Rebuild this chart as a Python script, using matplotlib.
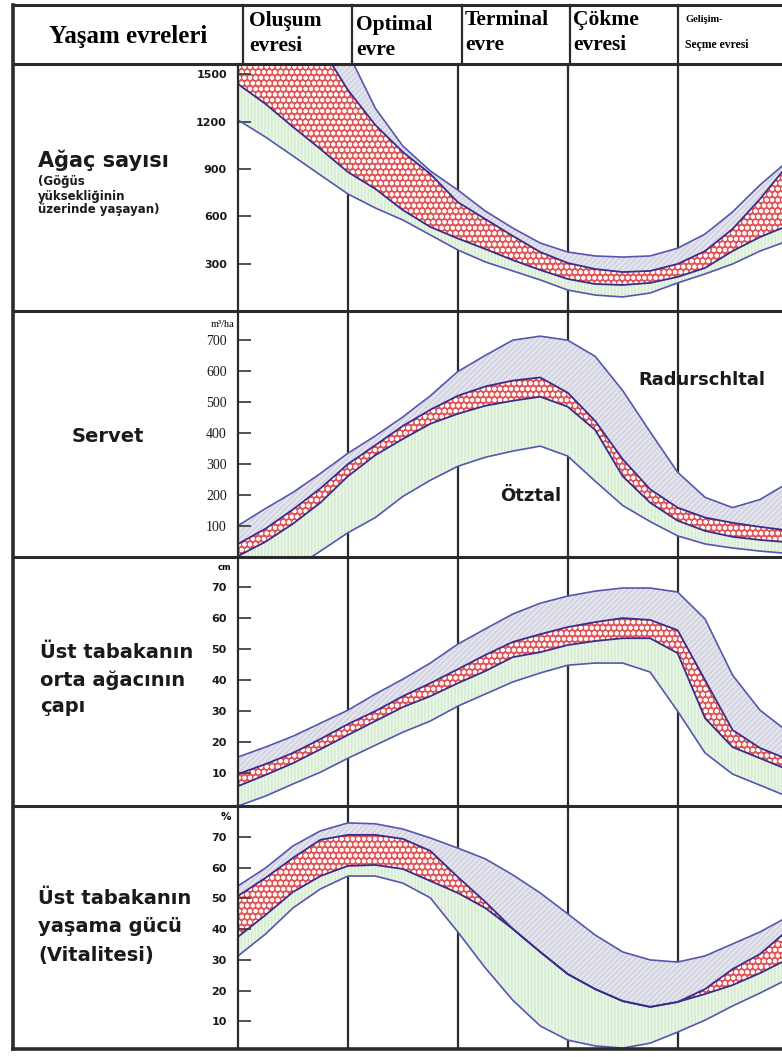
import matplotlib.pyplot as plt
from matplotlib.lines import Line2D

FIG_W, FIG_H = 782, 1057

plt.rcParams['hatch.linewidth'] = 1.3

# position along the stand life cycle, in phase widths (phase borders at 1..4)
x_pos = [0, 0.25, 0.5, 0.75, 1, 1.25, 1.5, 1.75, 2, 2.25, 2.5, 2.75, 3,
         3.25, 3.5, 3.75, 4, 4.25, 4.5, 4.75, 4.95]

header_left = 'Yaşam evreleri'
phase_names = ['Oluşum\nevresi', 'Optimal\nevre', 'Terminal\nevre', 'Çökme\nevresi']
last_phase = ['Gelişim-', 'Seçme evresi']

# tree count per ha (a = upper line, b/c = red band, d = lower line)
trees_a = [2300, 2150, 2000, 1850, 1640, 1285, 1046, 888, 767, 634, 526, 431,
           374, 349, 342, 349, 398, 488, 628, 799, 919]
trees_b = [2000, 1850, 1750, 1680, 1401, 1179, 1008, 869, 690, 583, 476, 374,
           304, 266, 247, 254, 298, 380, 520, 710, 881]
trees_c = [1439, 1313, 1167, 1027, 881, 774, 640, 533, 460, 393, 323, 260,
           203, 171, 165, 178, 216, 273, 380, 469, 526]
trees_d = [1211, 1103, 983, 862, 742, 653, 577, 482, 387, 311, 254, 197,
           133, 101, 89, 114, 178, 235, 298, 380, 431]
trees_ticks = [300, 600, 900, 1200, 1500]

# growing stock m3/ha
stock_a = [101, 156, 208, 269, 334, 390, 451, 519, 597, 649, 698, 711,
           698, 646, 536, 403, 273, 192, 159, 185, 227]
stock_b = [42, 91, 153, 221, 299, 360, 422, 474, 519, 549, 568, 578,
           529, 438, 315, 218, 159, 127, 110, 97, 88]
stock_c = [3, 49, 107, 175, 260, 328, 380, 429, 461, 487, 503, 516,
           484, 409, 260, 175, 117, 84, 65, 55, 49]
stock_d = [-156, -97, -39, 19, 78, 127, 195, 247, 292, 321, 341, 357,
           325, 244, 166, 114, 68, 42, 29, 19, 13]
stock_ticks = [100, 200, 300, 400, 500, 600, 700]

# mean diameter of the upper layer, cm
diam_a = [15.2, 18.4, 21.9, 26.1, 30.3, 35.5, 40.3, 45.5, 51.6, 56.5, 61.3,
          64.8, 67.1, 68.7, 69.7, 69.7, 68.4, 59.7, 41.6, 30.3, 24.8]
diam_b = [9.7, 12.9, 16.5, 21.0, 25.8, 30.0, 34.8, 39.0, 43.5, 48.1, 52.3,
          54.8, 57.1, 58.7, 60.0, 59.4, 56.1, 40.0, 23.9, 18.1, 15.2]
diam_c = [5.8, 9.4, 13.2, 17.7, 22.3, 26.8, 31.3, 34.8, 39.0, 42.9, 47.4,
          49.0, 51.3, 52.6, 53.5, 53.5, 48.7, 27.7, 18.4, 14.8, 11.9]
diam_d = [-0.6, 2.6, 6.5, 10.3, 14.8, 19.0, 23.2, 26.8, 31.6, 35.5, 39.4,
          42.3, 44.8, 45.5, 45.5, 42.6, 30.0, 16.5, 9.7, 6.1, 3.2]
diam_ticks = [10, 20, 30, 40, 50, 60, 70]

# vitality of the upper layer, %
vital_a = [54.1, 59.9, 67.1, 72.0, 74.6, 74.3, 72.6, 69.7, 66.4, 62.9, 57.7,
           51.8, 45.0, 38.1, 32.6, 30.0, 29.3, 31.3, 35.2, 39.1, 43.0]
vital_b = [50.8, 56.7, 63.2, 69.1, 70.7, 70.7, 69.4, 65.5, 57.0, 48.9, 40.1,
           32.6, 25.4, 20.5, 16.6, 14.7, 16.3, 20.5, 27.0, 31.9, 38.1]
vital_c = [37.5, 44.6, 52.1, 57.3, 60.6, 60.9, 59.6, 55.7, 51.8, 46.9, 40.1,
           32.6, 25.4, 20.5, 16.6, 14.7, 16.3, 18.9, 21.8, 25.7, 29.3]
vital_d = [31.3, 38.4, 46.9, 53.1, 57.3, 57.3, 55.0, 50.2, 39.1, 27.4, 16.9,
           8.5, 3.9, 2.0, 1.3, 2.9, 6.5, 10.4, 15.0, 19.2, 22.8]
vital_ticks = [10, 20, 30, 40, 50, 60, 70]

LINE = '#2b2b2b'
SANS = 'DejaVu Sans'
SERIF = 'Liberation Serif'


def fx(px):
    return px / FIG_W


def fy(py):
    return 1 - py / FIG_H


fig = plt.figure(figsize=(FIG_W / 100, FIG_H / 100), dpi=100)
fig.patch.set_facecolor('white')

panels = [
    dict(rows=(64, 311), ylim=(0, 1566), curves=(trees_a, trees_b, trees_c, trees_d),
         ticks=trees_ticks, tick_font=dict(family=SANS, weight='bold', size=8)),
    dict(rows=(311, 557), ylim=(0, 792), curves=(stock_a, stock_b, stock_c, stock_d),
         ticks=stock_ticks, tick_font=dict(family=SERIF, size=10)),
    dict(rows=(557, 806), ylim=(-0.6, 79.7), curves=(diam_a, diam_b, diam_c, diam_d),
         ticks=diam_ticks, tick_font=dict(family=SANS, weight='bold', size=8)),
    dict(rows=(806, 1049), ylim=(1.0, 80.1), curves=(vital_a, vital_b, vital_c, vital_d),
         ticks=vital_ticks, tick_font=dict(family=SANS, weight='bold', size=8)),
]

for p in panels:
    top, bot = p['rows']
    ax = fig.add_axes([fx(238), fy(bot), 1 - fx(238), (bot - top) / FIG_H])
    ax.set_xlim(0, 4.95)
    ax.set_ylim(*p['ylim'])
    a, b, c, d = p['curves']

    for xb in [1, 2, 3, 4]:
        ax.axvline(xb, color=LINE, lw=1.6, zorder=0.5)

    ax.fill_between(x_pos, a, b, facecolor='#e6e6ef', edgecolor='#d2d2e0',
                    hatch='//////', linewidth=0, zorder=1)
    ax.fill_between(x_pos, b, c, facecolor='#e0555a', edgecolor='#fff4f0',
                    hatch='ooo', linewidth=0, zorder=1)
    ax.fill_between(x_pos, c, d, facecolor='#ecf7e9', edgecolor='#d6ecd2',
                    hatch='|||||', linewidth=0, zorder=1)

    ax.plot(x_pos, a, color='#5656b0', lw=1.2, zorder=2)
    ax.plot(x_pos, b, color='#3a2c8c', lw=1.3, zorder=2)
    ax.plot(x_pos, c, color='#3a2c8c', lw=1.3, zorder=2)
    ax.plot(x_pos, d, color='#5656b0', lw=1.2, zorder=2)

    for side in ['top', 'right', 'bottom']:
        ax.spines[side].set_visible(False)
    ax.spines['left'].set_color(LINE)
    ax.spines['left'].set_linewidth(1.6)
    ax.set_xticks([])
    ax.set_yticks(p['ticks'])
    ax.set_yticklabels([str(t) for t in p['ticks']], **p['tick_font'])
    ax.tick_params(axis='y', direction='in', length=9, width=1.3, color='#444444',
                   pad=8, labelcolor='#1a1a1a')
    ax.set_facecolor('none')

# units above the tick columns
fig.text(fx(234), fy(325), 'm³/ha', ha='right', va='center', family=SERIF, size=7.5)
fig.text(fx(231), fy(567), 'cm', ha='right', va='center', family=SANS, weight='bold', size=6)
fig.text(fx(231), fy(817), '%', ha='right', va='center', family=SANS, weight='bold', size=7.5)


# table frame
def hline(py, x0=13, x1=782, lw=2.2):
    fig.add_artist(Line2D([fx(x0), fx(x1)], [fy(py), fy(py)], color=LINE, lw=lw))


def vline(px, y0, y1, lw=1.6):
    fig.add_artist(Line2D([fx(px), fx(px)], [fy(y0), fy(y1)], color=LINE, lw=lw))


for py in [5, 64, 311, 557, 806]:
    hline(py)
hline(1049, lw=2.6)
vline(13, 5, 1049, lw=2.6)
for px in [243, 352, 462, 570, 678]:
    vline(px, 5, 64)

# header
fig.text(fx(128), fy(36), header_left, ha='center', va='center',
         family=SERIF, weight='bold', size=18)
for name, px, py0 in zip(phase_names, [249, 356, 465, 573], [21, 25, 20, 20]):
    first, second = name.split('\n')
    fig.text(fx(px), fy(py0), first, ha='left', va='center', family=SERIF,
             weight='bold', size=15.5)
    fig.text(fx(px), fy(py0 + 25), second, ha='left', va='center', family=SERIF,
             weight='bold', size=15.5)
fig.text(fx(685), fy(19), last_phase[0], ha='left', va='center', family=SERIF,
         weight='bold', size=7.5)
fig.text(fx(685), fy(45), last_phase[1], ha='left', va='center', family=SERIF,
         weight='bold', size=8.5)

# row labels
lab = dict(ha='left', va='center', family=SANS, weight='bold', color='#1a1a1a')
fig.text(fx(38), fy(160), 'Ağaç sayısı', size=15, **lab)
fig.text(fx(38), fy(182), '(Göğüs', size=8.5, **lab)
fig.text(fx(38), fy(196), 'yüksekliğinin', size=8.5, **lab)
fig.text(fx(38), fy(210), 'üzerinde yaşayan)', size=8.5, **lab)
fig.text(fx(72), fy(436), 'Servet', size=14, **lab)
for i, line in enumerate(['Üst tabakanın', 'orta ağacının', 'çapı']):
    fig.text(fx(40), fy(653 + 27 * i), line, size=14, **lab)
for i, line in enumerate(['Üst tabakanın', 'yaşama gücü', '(Vitalitesi)']):
    fig.text(fx(38), fy(898 + 28.5 * i), line, size=14, **lab)

# valley names in the stock panel
fig.text(fx(702), fy(380), 'Radurschltal', ha='center', va='center', family=SANS,
         weight='bold', size=13, color='#1a1a1a')
fig.text(fx(531), fy(496), 'Ötztal', ha='center', va='center', family=SANS,
         weight='bold', size=13, color='#1a1a1a')

fig.savefig('out.png', dpi=100, facecolor='white')
